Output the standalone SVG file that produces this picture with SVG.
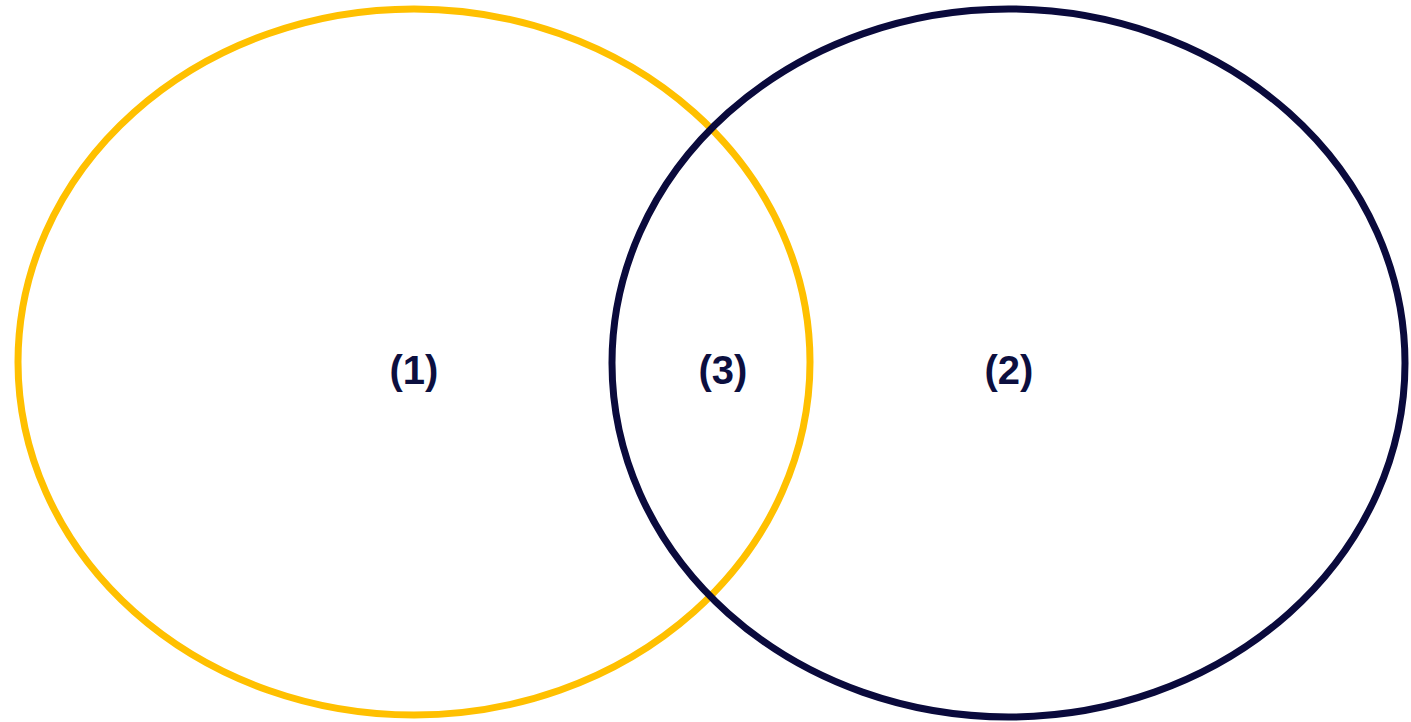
<svg xmlns="http://www.w3.org/2000/svg" width="1411" height="722" viewBox="0 0 1411 722">
<style>
.lbl{font-family:"Liberation Sans",Arial,sans-serif;font-weight:bold;font-size:40px;fill:#0c0f3f;text-anchor:middle}
.e{fill:none;stroke-width:7}
</style>
<rect width="1411" height="722" fill="#ffffff"/>
<g id="set1"><ellipse class="e" cx="414" cy="362" rx="396" ry="353" stroke="#FFC000"/></g>
<g id="set2"><ellipse class="e" cx="1008.5" cy="363" rx="396.5" ry="354" stroke="#0a0a3c"/></g>
<g id="labels">
<text class="lbl" x="414" y="384">(1)</text>
<text class="lbl" x="723" y="384">(3)</text>
<text class="lbl" x="1009" y="384">(2)</text>
</g>
<g id="connectors"/>
</svg>
